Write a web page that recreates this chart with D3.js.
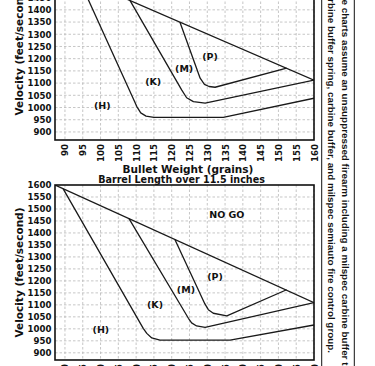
<!DOCTYPE html>
<html><head><meta charset="utf-8">
<script src="https://cdn.jsdelivr.net/npm/d3@7"></script>
<style>body{margin:0;background:#fff}svg{display:block}</style>
</head><body><svg id="c" width="375" height="366"></svg>
<script>
// ---- tick labels ----
const weightTicks = [90,95,100,105,110,115,120,125,130,135,140,145,150,155,160];
const velocityTicks = [900,950,1000,1050,1100,1150,1200,1250,1300,1350,1400,1450,1500,1550,1600];

// ---- top chart (grains, feet/second) ----
const topEnvelope = [[87.2,1571],[160,1112]];
const topH = [[93.8,1530],[110.2,1004],[111.3,978],[112.8,965],[115,960],[134.5,960],[160,1038]];
const topK = [[108.3,1438],[122.8,1072],[124.2,1040],[126.1,1024],[129.4,1018],[160,1112]];
const topM = [[122.3,1350],[128.0,1120],[129.2,1095],[130.5,1086],[132.2,1083],[152.3,1161]];
const topLabels = [["(H)",100.5,1007],["(K)",114.8,1106],["(M)",123.5,1158],["(P)",130.8,1209],["NO GO",135.5,1478]];

// ---- bottom chart: Barrel Length over 11.5 inches ----
const botEnvelope = [[87.2,1600],[160,1109]];
const botH = [[89.5,1584],[112,1002],[113,981],[114.4,962],[116.7,953],[136.4,953],[160,1016]];
const botK = [[108,1460],[124.7,1044],[125.6,1025],[127,1012],[129.4,1006.5],[160,1109]];
const botM = [[120.9,1373],[129.3,1105],[130.3,1080],[131.7,1065],[135.5,1054],[152.3,1163]];
const botLabels = [["(H)",100.1,998],["(K)",115.3,1099],["(M)",124.0,1165],["(P)",132.2,1218],["NO GO",135.5,1478]];

const xTitle = "Bullet Weight (grains)";
const yTitle = "Velocity (feet/second)";
const bottomTitle = "Barrel Length over 11.5 inches";
const note1 = "These charts assume an unsuppressed firearm including a milspec carbine buffer tube,";
const note2 = "carbine buffer spring, carbine buffer, and milspec semiauto fire control group.";

const svg = d3.select("#c");
svg.append("rect").attr("width",375).attr("height",366).attr("fill","#fff");
const FONT = "DejaVu Sans";
const xDomain = [87.2,160], xRange = [55,314];

function chart(id, yDomain, yRange, env, H, K, M, labels) {
  const x = d3.scaleLinear().domain(xDomain).range(xRange);
  const y = d3.scaleLinear().domain(yDomain).range(yRange);
  const g = svg.append("g");
  const top = yRange[1], bot = yRange[0];
  g.append("clipPath").attr("id",id).append("rect")
    .attr("x",xRange[0]).attr("y",top).attr("width",xRange[1]-xRange[0]).attr("height",bot-top);
  // grid
  const grid = g.append("g").attr("stroke","#b8b8b8").attr("stroke-width",0.8).attr("stroke-dasharray","2.5,2");
  grid.selectAll("line.v").data(weightTicks).join("line")
    .attr("x1",d=>x(d)).attr("x2",d=>x(d)).attr("y1",top).attr("y2",bot);
  grid.selectAll("line.h").data(velocityTicks.filter(v=>v>=yDomain[0]&&v<yDomain[1])).join("line")
    .attr("y1",d=>y(d)).attr("y2",d=>y(d)).attr("x1",xRange[0]).attr("x2",xRange[1]);
  // axes
  const ya = d3.axisLeft(y).tickValues(velocityTicks.filter(v=>v>=yDomain[0]&&v<=yDomain[1]))
    .tickFormat(d3.format("d")).tickSize(0).tickPadding(3.5);
  const yg = g.append("g").attr("transform",`translate(${xRange[0]},0)`).call(ya);
  yg.select(".domain").remove();
  yg.selectAll("text").attr("font-family",FONT).attr("font-weight","bold").attr("font-size",8.6).attr("fill","#111");
  const xa = d3.axisBottom(x).tickValues(weightTicks).tickSize(0).tickFormat(d3.format("d"));
  const xg = g.append("g").attr("transform",`translate(0,${bot})`).call(xa);
  xg.select(".domain").remove();
  xg.selectAll("text").attr("font-family",FONT).attr("font-weight","bold").attr("font-size",8.6).attr("fill","#111")
    .attr("text-anchor","end").attr("transform","rotate(-90)").attr("x",-4).attr("y",0).attr("dy","0.35em");
  // lines
  const line = d3.line().x(d=>x(d[0])).y(d=>y(d[1]));
  const lg = g.append("g").attr("clip-path",`url(#${id})`).attr("fill","none").attr("stroke","#1a1a1a").attr("stroke-width",1.3).attr("stroke-linejoin","round");
  [env,H,K,M].forEach(s=>lg.append("path").attr("d",line(s)));
  // labels
  g.append("g").attr("clip-path",`url(#${id})`).selectAll("text").data(labels).join("text")
    .attr("x",d=>x(d[1])).attr("y",d=>y(d[2])).attr("dy","0.35em").attr("text-anchor","middle")
    .attr("font-family",FONT).attr("font-weight","bold").attr("font-size",9.5).attr("fill","#111").text(d=>d[0]);
  // border
  g.append("rect").attr("x",xRange[0]).attr("y",top).attr("width",xRange[1]-xRange[0]).attr("height",bot-top)
    .attr("fill","none").attr("stroke","#111").attr("stroke-width",1.6);
  // y title
  g.append("text").attr("transform",`translate(19,${(top+bot)/2}) rotate(-90)`).attr("text-anchor","middle").attr("dy","0.35em")
    .attr("font-family",FONT).attr("font-weight","bold").attr("font-size",10.5).attr("fill","#111").text(yTitle);
  return {x,y,g};
}

chart("clipTop",[867,1600],[140,-39],topEnvelope,topH,topK,topM,topLabels);
svg.append("text").attr("x",188).attr("y",173).attr("text-anchor","middle")
  .attr("font-family",FONT).attr("font-weight","bold").attr("font-size",10.5).attr("fill","#111").text(xTitle);
svg.append("text").attr("x",181.5).attr("y",183).attr("text-anchor","middle")
  .attr("font-family",FONT).attr("font-weight","bold").attr("font-size",9.6).attr("fill","#111").text(bottomTitle);
chart("clipBot",[870,1600],[360,185],botEnvelope,botH,botK,botM,botLabels);

// note box on the right
svg.append("rect").attr("x",321.7).attr("y",-10).attr("width",32.6).attr("height",380)
  .attr("fill","none").attr("stroke","#111").attr("stroke-width",1);
const nf = {"font-family":"Liberation Sans","font-weight":"bold","font-size":9.85};
const t1 = svg.append("text").attr("transform","translate(341.5,0) rotate(90)").text(note1);
const t2 = svg.append("text").attr("transform","translate(328,0) rotate(90)").attr("text-anchor","end").attr("x",353).text(note2);
[t1,t2].forEach(t=>{Object.entries(nf).forEach(([k,v])=>t.attr(k,v)); t.attr("fill","#111");});
const off = t1.node().getSubStringLength(0,4);
t1.attr("x",-off-0.5);
</script></body></html>
